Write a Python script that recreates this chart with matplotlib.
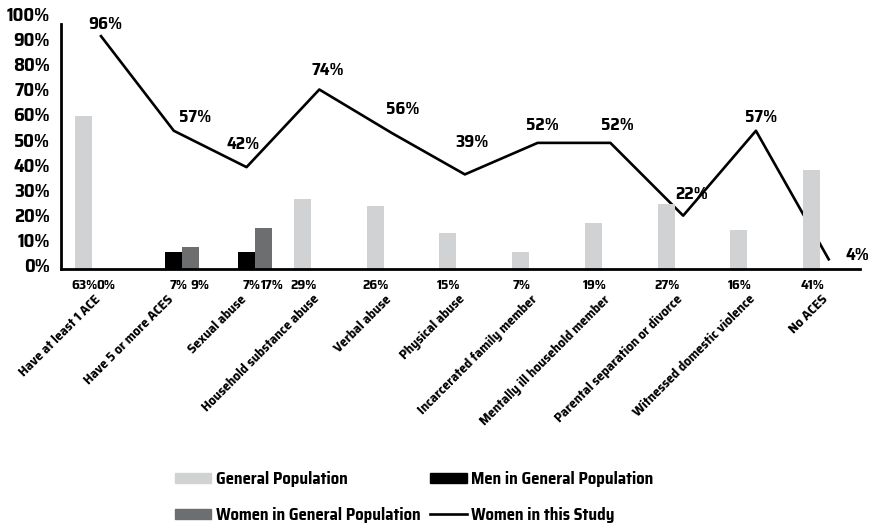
import os
import numpy as np
import matplotlib
matplotlib.use("Agg")
import matplotlib.pyplot as plt
import matplotlib.font_manager as fm
from matplotlib.textpath import TextPath
from matplotlib.transforms import ScaledTranslation
from matplotlib.patches import Patch
from matplotlib.lines import Line2D

nan = np.nan
categories = ["Have at least 1 ACE", "Have 5 or more ACES", "Sexual abuse",
              "Household substance abuse", "Verbal abuse", "Physical abuse",
              "Incarcerated family member", "Mentally ill household member",
              "Parental separation or divorce", "Witnessed domestic violence",
              "No ACES"]
general = [63, nan, nan, 29, 26, 15, 7, 19, 27, 16, 41]
men = [0, 7, 7, nan, nan, nan, nan, nan, nan, nan, nan]
women = [nan, 9, 17, nan, nan, nan, nan, nan, nan, nan, nan]
study = [96, 57, 42, 74, 56, 39, 52, 52, 22, 57, 4]
yticks = list(range(0, 101, 10))

# label nudges for the line values (pixels), as placed in the source
study_off = [(4, 12), (21, 14), (-3, 23), (8, 20), (11, 24), (7, 32),
             (5, 18), (7, 18), (8, 22), (5, 14), (29, 4)]

C_GEN = "#d1d2d4"
C_MEN = "#000000"
C_WOM = "#6d6e70"

# the source uses a narrow bold face; find a static condensed/narrow bold file
TARGET = 11.2
best, best_d = None, 1e9
for f in fm.fontManager.ttflist:
    base = os.path.basename(f.fname)
    low = base.lower()
    if not low.endswith((".ttf", ".otf")) or "[" in base or "variable" in low:
        continue
    if "condensed" not in low and "narrow" not in low:
        continue
    if "bold" not in low or "italic" in low or "semibold" in low or "extrabold" in low:
        continue
    try:
        prop = fm.FontProperties(fname=f.fname, size=10)
        wd = TextPath((0, 0), "Have at least 1 ACE", prop=prop).get_extents().width
        ht = TextPath((0, 0), "H", prop=prop).get_extents().height
    except Exception:
        continue
    d = abs(wd / ht - TARGET)
    if d < best_d:
        best, best_d = f.fname, d
FONT_PATH = best


def fp(size):
    if FONT_PATH:
        return fm.FontProperties(fname=FONT_PATH, size=size)
    return fm.FontProperties(family=["Liberation Sans", "DejaVu Sans"],
                             weight="bold", size=size * 0.85)


fig = plt.figure(figsize=(8.7, 5.28), dpi=100)
ax = fig.add_axes([0.0701, 0.4905, 0.9184, 0.464])

x = np.arange(len(categories))
w = 0.234
series = [(general, C_GEN, -w, 1), (men, C_MEN, 0, 5), (women, C_WOM, w, 9)]
for vals, col, off, dx in series:
    ax.bar(x + off, vals, width=w, color=col, zorder=2)
    for xi, v in zip(x, vals):
        if np.isnan(v):
            continue
        ax.annotate(f"{v:.0f}%", xy=(xi + off, 0), xytext=(dx, -10),
                    textcoords="offset pixels", ha="center", va="top",
                    fontproperties=fp(10), zorder=5)

ax.plot(x, study, color="black", lw=1.9, zorder=1.5)
for xi, v, (dx, dy) in zip(x, study, study_off):
    ax.annotate(f"{v}%", xy=(xi, v), xytext=(dx, dy), textcoords="offset pixels",
                ha="center", va="center", fontproperties=fp(12.5), zorder=5)

ax.set_xlim(-0.55, 10.43)
ax.set_ylim(0, 101)
for s in ["top", "right"]:
    ax.spines[s].set_visible(False)
ax.spines["left"].set_linewidth(2)
ax.spines["bottom"].set_linewidth(2)

ax.set_yticks(yticks)
ax.set_yticklabels([])
ax.tick_params(axis="y", length=0)
for v in yticks:
    ax.annotate(f"{v}%", xy=(0, v), xycoords=ax.get_yaxis_transform(),
                xytext=(-11, 2 + 0.083 * v), textcoords="offset pixels",
                ha="right", va="center", fontproperties=fp(13.5))

ax.set_xticks(x)
ax.set_xticklabels(categories, rotation=45, ha="right", rotation_mode="anchor",
                   fontproperties=fp(10))
ax.tick_params(axis="x", length=0, pad=17)
shift = ScaledTranslation(-7 / 100, 0, fig.dpi_scale_trans)
for lab in ax.get_xticklabels():
    lab.set_transform(lab.get_transform() + shift)

handles = [Patch(color=C_GEN), Patch(color=C_WOM), Patch(color=C_MEN),
           Line2D([], [], color="black", lw=1.9)]
labels = ["General Population", "Women in General Population",
          "Men in General Population", "Women in this Study"]
fig.legend(handles, labels, ncol=2, loc="center", bbox_to_anchor=(0.476, 0.059),
           frameon=False, prop=fp(12),
           handlelength=2.2, handleheight=0.55, handletextpad=0.25,
           columnspacing=0.6, labelspacing=1.2)

fig.savefig("out.png", dpi=100)
